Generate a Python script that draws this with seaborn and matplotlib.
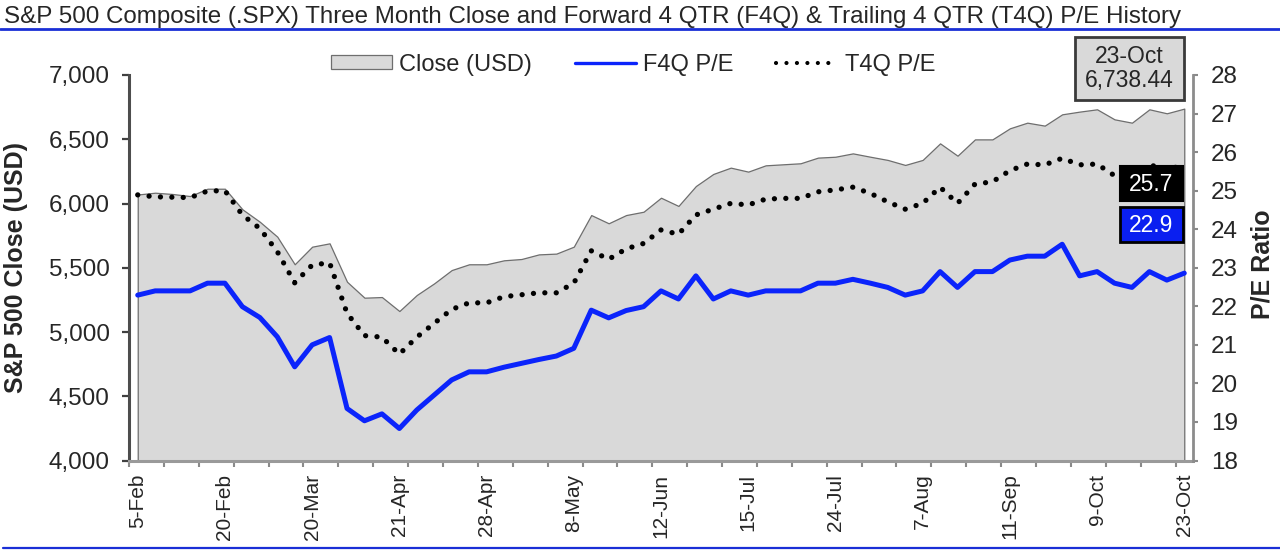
import numpy as np
import matplotlib
matplotlib.use("Agg")
import matplotlib.pyplot as plt
import seaborn as sns
from matplotlib.lines import Line2D
from matplotlib.patches import Rectangle
from matplotlib.ticker import FuncFormatter

# tick labels on the category axis (every 5th point is labelled)
date_labels = ["5-Feb", "20-Feb", "20-Mar", "21-Apr", "28-Apr", "8-May", "12-Jun",
               "15-Jul", "24-Jul", "7-Aug", "11-Sep", "9-Oct", "23-Oct"]

# S&P 500 close (USD)
close = [6070, 6084, 6074, 6058, 6115, 6115, 5955, 5858, 5742, 5527,
         5664, 5690, 5391, 5267, 5272, 5163, 5288, 5379, 5482, 5527,
         5527, 5558, 5568, 5604, 5610, 5664, 5910, 5846, 5910, 5936,
         6045, 5981, 6136, 6230, 6279, 6248, 6297, 6305, 6313, 6357,
         6364, 6390, 6364, 6339, 6300, 6339, 6468, 6372, 6499, 6499,
         6585, 6629, 6606, 6694, 6715, 6733, 6655, 6629, 6733, 6702,
         6738.44]

# forward 4 quarter P/E
f4q = [22.29, 22.40, 22.40, 22.40, 22.60, 22.60, 21.99, 21.71, 21.21, 20.43,
       21.00, 21.19, 19.35, 19.03, 19.21, 18.83, 19.31, 19.70, 20.09, 20.30,
       20.30, 20.42, 20.52, 20.62, 20.71, 20.91, 21.90, 21.70, 21.89, 21.99,
       22.40, 22.19, 22.79, 22.19, 22.40, 22.29, 22.40, 22.40, 22.40, 22.60,
       22.60, 22.70, 22.60, 22.49, 22.29, 22.40, 22.90, 22.49, 22.90, 22.90,
       23.20, 23.30, 23.30, 23.61, 22.79, 22.90, 22.60, 22.49, 22.90, 22.68,
       22.86]

# trailing 4 quarter P/E
t4q = [24.89, 24.84, 24.83, 24.82, 24.99, 25.00, 24.37, 24.02, 23.42, 22.61,
       23.07, 23.13, 21.82, 21.24, 21.20, 20.76, 21.20, 21.56, 21.92, 22.09,
       22.09, 22.25, 22.30, 22.35, 22.35, 22.60, 23.44, 23.22, 23.49, 23.63,
       23.98, 23.87, 24.37, 24.52, 24.67, 24.63, 24.78, 24.80, 24.80, 24.97,
       25.02, 25.09, 24.93, 24.71, 24.52, 24.67, 25.09, 24.67, 25.17, 25.23,
       25.52, 25.69, 25.67, 25.84, 25.67, 25.69, 25.39, 25.35, 25.67, 25.55,
       25.66]

title = ("S&P 500 Composite (.SPX) Three Month Close and Forward 4 QTR (F4Q) "
         "& Trailing 4 QTR (T4Q) P/E History")

sns.set_style("white")
plt.rcParams["font.family"] = ["Liberation Sans", "DejaVu Sans"]

W, H = 1280, 553
BLUE = "#0b24fb"
DOTS = (0, (0.01, 2.15))
x = np.arange(len(close))

fig = plt.figure(figsize=(W / 100, H / 100), dpi=100)
ax = fig.add_axes([129 / W, 92.5 / H, 1064 / W, 385.5 / H])

# price area on the left axis
area = ax.fill_between(x, close, 4000, facecolor="#d9d9d9", edgecolor="#6e6e6e",
                       linewidth=0.9, label="Close (USD)")
ax.set_xlim(-0.5, len(close) - 0.5)
ax.set_ylim(4000, 7000)

# P/E lines on the right axis
ax2 = ax.twinx()
sns.lineplot(x=x, y=f4q, ax=ax2, color=BLUE, lw=3.6, legend=False)
sns.lineplot(x=x, y=t4q, ax=ax2, color="black", lw=3.8, linestyle=DOTS,
             dash_capstyle="round", legend=False)
ax2.set_ylim(18, 28)
ax2.set_ylabel("")

# x axis: labels every 5 points, tick marks every 2 category boundaries
ax.set_xticks(x[::5], labels=date_labels, rotation=90, fontsize=15)
ax.set_xticks(np.arange(-0.5, len(close), 2), minor=True)
ax.tick_params(axis="x", which="major", length=0, pad=9.5)
ax.tick_params(axis="x", which="minor", bottom=True, length=4.3, width=1.5,
               color="#8a8a8a", direction="out")

ax.set_yticks(range(4000, 7001, 500))
ax.yaxis.set_major_formatter(FuncFormatter(lambda v, p: f"{v:,.0f}"))
ax.tick_params(axis="y", left=True, length=5, width=1.6, color="#404040",
               labelsize=17.5, pad=9, direction="out")
ax2.set_yticks(range(18, 29))
ax2.tick_params(axis="y", right=True, length=3.8, width=1.5, color="#8a8a8a",
                labelsize=17.5, pad=9, direction="out")

for a in (ax, ax2):
    a.spines["top"].set_visible(False)
ax.spines["right"].set_visible(False)
ax2.spines["left"].set_visible(False)
ax2.spines["bottom"].set_visible(False)
ax.spines["left"].set_color("#4d4d4d")
ax.spines["left"].set_linewidth(2.2)
ax.spines["bottom"].set_color("#9a9a9a")
ax.spines["bottom"].set_linewidth(2.2)
ax2.spines["right"].set_color("#8c8c8c")
ax2.spines["right"].set_linewidth(2)

# axis titles
fig.text(16 / W, 1 - 267.5 / H, "S&P 500 Close (USD)", rotation=90, ha="center",
         va="center", fontsize=18, fontweight="bold")
fig.text(1262 / W, 1 - 264 / H, "P/E Ratio", rotation=90, ha="center",
         va="center", fontsize=18, fontweight="bold")

# legend (thinner line samples than the plotted lines, as in the original)
handles = [area,
           Line2D([], [], color=BLUE, lw=2.4),
           Line2D([], [], color="black", lw=3.0, linestyle=(0, (0.01, 2.5)),
                  dash_capstyle="round")]
ax2.legend(handles, ["Close (USD)", "F4Q P/E", "T4Q P/E"], loc="center",
           bbox_to_anchor=(633 / W, 1 - 64.5 / H), bbox_transform=fig.transFigure,
           ncol=3, frameon=False, fontsize=17, handlelength=2.6, handleheight=0.5,
           columnspacing=1.8, handletextpad=0.3)

# title and blue rules
fig.text(4 / W, 1 - 23 / H, title, fontsize=17.4, ha="left", va="baseline")
fig.add_artist(Line2D([0, 1], [1 - 29 / H] * 2, transform=fig.transFigure,
                      color="#1a2fd6", lw=2))
fig.add_artist(Line2D([0.002, 1], [1 - 547.7 / H] * 2, transform=fig.transFigure,
                      color="#1a2fd6", lw=1.6))

# last value boxes
def box(x0, y0, x1, y1, fc, ec, lw):
    fig.add_artist(Rectangle((x0 / W, 1 - y1 / H), (x1 - x0) / W, (y1 - y0) / H,
                             transform=fig.transFigure, facecolor=fc,
                             edgecolor=ec, linewidth=lw))

box(1075, 37, 1184, 100, "#d9d9d9", "#3a3a3a", 2)
fig.text(1129.5 / W, 1 - 68.5 / H, f"23-Oct\n{close[-1]:,.2f}", ha="center",
         va="center", fontsize=16.5, linespacing=1.05)
box(1120, 166, 1183, 201, "black", "black", 1.5)
fig.text(1151.5 / W, 1 - 184 / H, f"{t4q[-1]:.1f}", ha="center", va="center",
         fontsize=16.5, color="white")
box(1120, 207, 1183, 242, "#0a1ff0", "black", 2)
fig.text(1151.5 / W, 1 - 225 / H, f"{f4q[-1]:.1f}", ha="center", va="center",
         fontsize=16.5, color="white")

fig.savefig("out.png", dpi=100)
